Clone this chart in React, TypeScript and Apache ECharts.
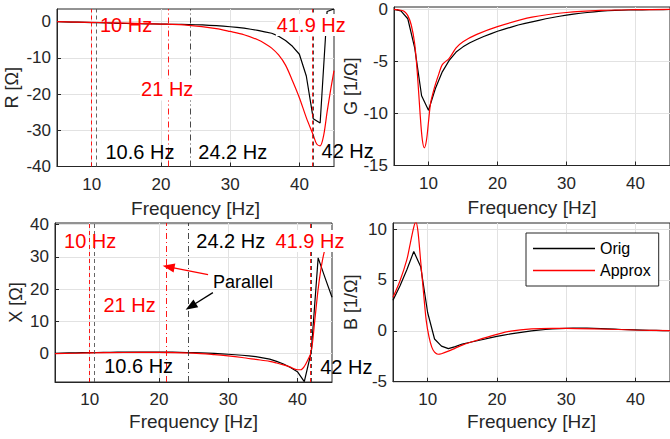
import React, { useEffect, useRef } from "react";
import * as echarts from "echarts";

// ---------- data ----------
const xTickValues = [10, 20, 30, 40];
const rTickValues = [-40, -30, -20, -10, 0];
const gTickValues = [-15, -10, -5, 0];
const xImTickValues = [0, 10, 20, 30, 40];
const bTickValues = [-5, 0, 5, 10];

// original data sampled at 1 Hz (5..45 Hz)
const origFreq = [5, 6, 7, 8, 9, 10, 11, 12, 13, 14, 15, 16, 17, 18, 19, 20, 21, 22, 23, 24, 25,
  26, 27, 28, 29, 30, 31, 32, 33, 34, 35, 36, 37, 38, 39, 40, 41, 42, 43, 44, 45];

const rOrig = [0, -0.05, -0.1, -0.15, -0.2, -0.25, -0.3, -0.35, -0.4, -0.45, -0.5, -0.52, -0.55, -0.6,
  -0.62, -0.65, -0.7, -0.72, -0.75, -0.8, -0.85, -0.9, -1.0, -1.1, -1.25, -1.4, -1.6, -1.8, -2.1, -2.4,
  -2.8, -3.2, -4.0, -5.2, -6.8, -9.0, -15.0, -26.8, -28.0, 2.8, 3.5];
const rApproxFreq = [5, 10, 15, 20, 24, 28, 30, 32, 34, 35, 36, 37, 38, 39, 40, 41, 42, 42.5, 43, 43.5, 44, 44.5, 45];
const rApprox = [0, -0.2, -0.4, -0.65, -1.0, -1.9, -2.7, -3.6, -5.0, -6.0, -7.3, -9.2, -12.0, -16.3, -21.0,
  -26.5, -31.3, -33.8, -34.3, -31.5, -25.0, -19.0, -13.5];

const gOrig = [0, -0.15, -0.9, -3.7, -8.3, -9.7, -7.6, -6.0, -4.9, -4.1, -3.6, -3.2, -2.9, -2.6, -2.35,
  -2.1, -1.9, -1.7, -1.5, -1.35, -1.2, -1.05, -0.9, -0.78, -0.66, -0.55, -0.45, -0.37, -0.3, -0.23,
  -0.17, -0.13, -0.1, -0.08, -0.06, -0.05, -0.04, -0.03, -0.02, -0.02, -0.01];
const gApproxFreq = [5, 6, 6.5, 7, 7.5, 8, 8.4, 8.8, 9.1, 9.4, 9.7, 10, 10.3, 10.7, 11, 11.5, 12, 13, 14,
  15, 17, 20, 25, 30, 35, 40, 45];
const gApprox = [0, -0.08, -0.2, -0.6, -1.5, -3.3, -6.3, -10.2, -12.5, -13.3, -12.6, -10.8, -9.0, -7.9,
  -7.2, -6.2, -5.3, -4.7, -3.7, -3.1, -2.4, -1.65, -0.75, -0.3, -0.1, -0.03, 0];

const xOrig = [0.1, 0.15, 0.2, 0.25, 0.3, 0.3, 0.35, 0.4, 0.4, 0.45, 0.45, 0.5, 0.5, 0.5, 0.5, 0.5, 0.45,
  0.45, 0.4, 0.35, 0.3, 0.25, 0.15, 0.05, -0.05, -0.2, -0.35, -0.5, -0.7, -0.95, -1.3, -1.7, -2.4, -3.2,
  -4.3, -5.6, -8.7, 0.5, 29.7, 23.5, 17.5];
const xApproxFreq = [5, 10, 15, 20, 25, 28, 30, 32, 34, 36, 37, 38, 39, 40, 40.5, 41, 41.5, 42, 42.5, 43,
  43.5, 44, 44.5, 45];
const xApprox = [0, 0.2, 0.35, 0.4, 0.15, -0.3, -0.7, -1.2, -1.8, -2.4, -2.9, -3.5, -4.2, -5.0, -5.0,
  -4.0, -2.0, 0.5, 10, 20, 27.5, 32.5, 35, 36];

const bOrig = [3.0, 4.4, 6.0, 7.8, 6.3, 1.8, -0.8, -1.5, -1.75, -1.55, -1.3, -1.15, -1.0, -0.85, -0.7,
  -0.55, -0.42, -0.3, -0.2, -0.1, 0.0, 0.07, 0.13, 0.18, 0.22, 0.25, 0.27, 0.28, 0.27, 0.25, 0.22, 0.19,
  0.16, 0.13, 0.11, 0.09, 0.07, 0.05, 0.04, 0.03, 0.02];
const bApproxFreq = [5, 6, 7, 7.5, 8, 8.3, 8.6, 9, 9.4, 9.8, 10.2, 10.6, 11, 11.5, 12, 13, 14, 15, 17, 20,
  22, 25, 28, 30, 35, 40, 45];
const bApprox = [3.3, 4.9, 7.0, 8.6, 10.2, 10.7, 9.8, 6.8, 3.8, 1.0, -0.6, -1.6, -2.1, -2.3, -2.25, -2.0,
  -1.7, -1.4, -0.95, -0.35, -0.02, 0.2, 0.25, 0.25, 0.18, 0.08, 0.02];

// resonance markers [Hz]
const resonanceFreqs = [10, 10.6, 21, 24.2, 41.9, 42];
const resonanceLabels = ["10 Hz", "10.6 Hz", "21 Hz", "24.2 Hz", "41.9 Hz", "42 Hz"];

// ---------- styling ----------
const FONT = "'Liberation Sans', Arial, Helvetica, sans-serif";
const RED = "#ff0000";
const BLACK = "#000000";
const AXIS = "#262626";
const GRIDC = "#e2e2e2";

const lineStyles = [
  { color: RED, type: [4, 3], width: 0.9 },
  { color: "#555555", type: [4, 3], width: 0.9 },
  { color: RED, type: [6, 3, 1, 3], width: 0.9 },
  { color: "#333333", type: [6, 3, 1, 3], width: 0.9 },
  { color: RED, type: [4, 3], width: 0.9 },
  { color: "#333333", type: [4, 3], width: 0.9 },
];

const zip = (f: number[], v: number[]) => f.map((x, i) => [x, v[i]]);

function xAxisCfg(gridIndex: number, nameGap: number) {
  return {
    type: "value", gridIndex, min: 5, max: 45,
    name: "Frequency [Hz]", nameLocation: "middle", nameGap,
    nameTextStyle: { fontSize: 19, color: AXIS, fontFamily: FONT },
    axisLine: { show: true, onZero: false, lineStyle: { color: AXIS, width: 1 } },
    axisTick: { show: true, inside: true, length: 4, customValues: xTickValues, lineStyle: { color: AXIS } },
    axisLabel: { customValues: xTickValues, fontSize: 17, color: AXIS, margin: 9, fontFamily: FONT },
    splitLine: { show: true, lineStyle: { color: GRIDC, width: 1 } },
  };
}

function yAxisCfg(gridIndex: number, min: number, max: number, ticks: number[], name: string, nameGap: number) {
  return {
    type: "value", gridIndex, min, max,
    name, nameLocation: "middle", nameGap, nameRotate: 90,
    nameTextStyle: { fontSize: 18, color: AXIS, fontFamily: FONT },
    axisLine: { show: true, onZero: false, lineStyle: { color: AXIS, width: 1 } },
    axisTick: { show: true, inside: true, length: 4, customValues: ticks, lineStyle: { color: AXIS } },
    axisLabel: { customValues: ticks, fontSize: 17, color: AXIS, margin: 6, fontFamily: FONT },
    splitLine: { show: true, lineStyle: { color: GRIDC, width: 1 } },
  };
}

function curve(name: string, idx: number, data: number[][], color: string, smooth: boolean) {
  return {
    name, type: "line", xAxisIndex: idx, yAxisIndex: idx, data,
    showSymbol: false, symbol: "none", smooth: smooth ? 0.3 : false,
    lineStyle: { color, width: 1.2 }, itemStyle: { color }, z: color === RED ? 4 : 3,
  };
}

function note(text: string, coord: number[], color: string, bg?: boolean, size = 20) {
  return {
    coord, symbol: "circle", symbolSize: 0,
    itemStyle: { color: "transparent" },
    label: {
      show: true, position: [0, 0], align: "left", verticalAlign: "middle",
      formatter: text, color, fontSize: size, fontFamily: FONT,
      backgroundColor: bg ? "#ffffff" : "transparent", padding: bg ? [1, 1] : 0,
    },
  };
}

function markerSeries(idx: number, notes: any[], arrows: any[]) {
  return {
    type: "line", xAxisIndex: idx, yAxisIndex: idx, data: [], silent: true, clip: false, z: 5,
    markLine: {
      silent: true, symbol: ["none", "none"], label: { show: false },
      data: [
        ...resonanceFreqs.map((f, i) => ({ xAxis: f, lineStyle: lineStyles[i] })),
        ...arrows,
      ],
    },
    markPoint: { silent: true, data: notes, z: 6 },
  };
}

export default function App() {
  const ref = useRef<HTMLDivElement>(null);
  useEffect(() => {
    if (!ref.current) return;
    const chart = echarts.init(ref.current, undefined, { renderer: "svg" });
    const colors = resonanceFreqs.map((_, i) => (i % 2 === 0 ? RED : BLACK));

    const rNotes = [
      note(resonanceLabels[0], [11.2, -0.9], colors[0]),
      note(resonanceLabels[2], [17.0, -18.7], colors[2], true),
      note(resonanceLabels[1], [12.0, -36.0], colors[1]),
      note(resonanceLabels[3], [25.4, -36.0], colors[3]),
      note(resonanceLabels[4], [36.6, -0.9], colors[4], true),
      note(resonanceLabels[5], [43.2, -35.6], colors[5]),
    ];
    const xNotes = [
      note(resonanceLabels[0], [6.3, 34.9], colors[0]),
      note(resonanceLabels[3], [25.4, 34.9], colors[3]),
      note(resonanceLabels[4], [36.7, 34.9], colors[4], true),
      note(resonanceLabels[2], [12.0, 15.2], colors[2]),
      note(resonanceLabels[1], [12.1, -3.9], colors[1]),
      note(resonanceLabels[5], [43.3, -4.3], colors[5]),
      note("Parallel", [27.8, 22.1], BLACK, false, 18),
    ];
    const arrows = [
      [
        { coord: [27.1, 24.5], symbol: "none" },
        { coord: [21.4, 26.9], symbol: "triangle", symbolSize: [9, 12], lineStyle: { color: RED, width: 1.3, type: "solid" }, itemStyle: { color: RED } },
      ],
      [
        { coord: [27.8, 18.9], symbol: "none" },
        { coord: [24.6, 14.6], symbol: "triangle", symbolSize: [9, 12], lineStyle: { color: BLACK, width: 1.3, type: "solid" }, itemStyle: { color: BLACK } },
      ],
    ];

    const gridBase = { show: true, borderColor: AXIS, borderWidth: 1, backgroundColor: "#ffffff", containLabel: false };

    chart.setOption({
      animation: false,
      textStyle: { fontFamily: FONT },
      grid: [
        { ...gridBase, left: 57, top: 9, width: 277, height: 157.5 },
        { ...gridBase, left: 394, top: 7, width: 277, height: 158.5 },
        { ...gridBase, left: 55, top: 223, width: 277, height: 159 },
        { ...gridBase, left: 393, top: 223, width: 277, height: 158.7 },
      ],
      xAxis: [xAxisCfg(0, 32), xAxisCfg(1, 32), xAxisCfg(2, 30), xAxisCfg(3, 30)],
      yAxis: [
        yAxisCfg(0, -40, 3.5, rTickValues, "R [Ω]", 36),
        yAxisCfg(1, -15, 0.23, gTickValues, "G [1/Ω]", 34),
        yAxisCfg(2, -8.8, 40.5, xImTickValues, "X [Ω]", 30),
        yAxisCfg(3, -5, 10.6, bTickValues, "B [1/Ω]", 33),
      ],
      legend: {
        show: true, data: ["Orig", "Approx"], orient: "vertical",
        left: 526, top: 233, padding: [7, 8, 7, 7], itemGap: 5,
        icon: "rect", itemWidth: 62, itemHeight: 1.3,
        borderColor: AXIS, borderWidth: 1, backgroundColor: "#ffffff",
        textStyle: { fontSize: 16, color: BLACK, fontFamily: FONT, padding: [0, 0, 0, 0], lineHeight: 17 },
      },
      series: [
        curve("Orig", 0, zip(origFreq, rOrig), BLACK, false),
        curve("Approx", 0, zip(rApproxFreq, rApprox), RED, true),
        curve("Orig", 1, zip(origFreq, gOrig), BLACK, false),
        curve("Approx", 1, zip(gApproxFreq, gApprox), RED, true),
        curve("Orig", 2, zip(origFreq, xOrig), BLACK, false),
        curve("Approx", 2, zip(xApproxFreq, xApprox), RED, true),
        curve("Orig", 3, zip(origFreq, bOrig), BLACK, false),
        curve("Approx", 3, zip(bApproxFreq, bApprox), RED, true),
        markerSeries(0, rNotes, []),
        markerSeries(2, xNotes, arrows),
      ],
    });
    return () => chart.dispose();
  }, []);
  return <div ref={ref} style={{ position: "fixed", left: 0, top: 0, width: 670, height: 439, background: "#fff" }} />;
}
